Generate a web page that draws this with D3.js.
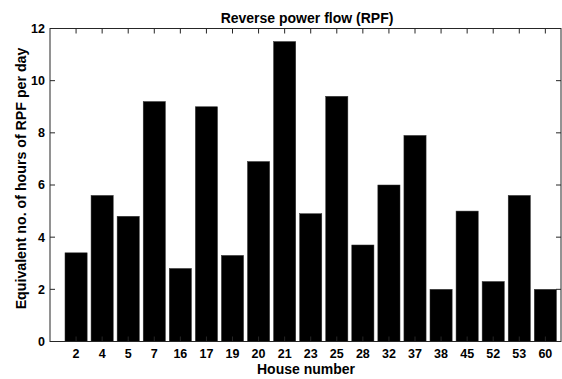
<!DOCTYPE html>
<html>
<head>
<meta charset="utf-8">
<script src="https://cdn.jsdelivr.net/npm/d3@7"></script>
<style>
  html, body { margin: 0; padding: 0; background: #fff; }
  svg { display: block; }
  text { font-family: "Liberation Sans", Arial, Helvetica, sans-serif; font-weight: bold; fill: #000; }
</style>
</head>
<body>
<svg id="chart" width="562" height="379"></svg>
<script>
const houses = ["2","4","5","7","16","17","19","20","21","23","25","28","32","37","38","45","52","53","60"];
const hours  = [3.4, 5.6, 4.8, 9.2, 2.8, 9.0, 3.3, 6.9, 11.5, 4.9, 9.4, 3.7, 6.0, 7.9, 2.0, 5.0, 2.3, 5.6, 2.0];
const yTicks = [0, 2, 4, 6, 8, 10, 12];
const titleText = "Reverse power flow (RPF)";
const xLabelText = "House number";
const yLabelText = "Equivalent no. of hours of RPF per day";

const svg = d3.select("#chart");
const L = 50, R = 561, T = 28.5, B = 341.5;
const axisColor = "#262626";

const x = d3.scaleLinear().domain([0, 19.6]).range([L, R]);
const y = d3.scaleLinear().domain([0, 12]).range([B, T]);
const barW = 0.85;

// bars
svg.append("g").selectAll("rect").data(hours).join("rect")
  .attr("x", (d, i) => x(i + 1 - barW / 2))
  .attr("width", (d, i) => x(i + 1 + barW / 2) - x(i + 1 - barW / 2))
  .attr("y", d => y(d))
  .attr("height", d => y(0) - y(d))
  .attr("fill", "#000")
  .attr("stroke", "#333")
  .attr("stroke-width", 0.5);

const tickLen = 5;
const ax = svg.append("g").attr("stroke", axisColor).attr("fill", "none");
// box
ax.append("rect").attr("x", L).attr("y", T).attr("width", R - L).attr("height", B - T).attr("stroke-width", 1);
// x ticks bottom & top
houses.forEach((h, i) => {
  const xx = x(i + 1);
  ax.append("line").attr("x1", xx).attr("x2", xx).attr("y1", B).attr("y2", B - tickLen);
  ax.append("line").attr("x1", xx).attr("x2", xx).attr("y1", T).attr("y2", T + tickLen);
});
// y ticks left & right
yTicks.forEach(t => {
  const yy = y(t);
  ax.append("line").attr("x1", L).attr("x2", L + tickLen).attr("y1", yy).attr("y2", yy);
  ax.append("line").attr("x1", R).attr("x2", R - tickLen).attr("y1", yy).attr("y2", yy);
});

// tick labels
svg.append("g").selectAll("text").data(houses).join("text")
  .attr("x", (d, i) => x(i + 1))
  .attr("y", 358)
  .attr("text-anchor", "middle")
  .attr("font-size", 12.5)
  .text(d => d);

svg.append("g").selectAll("text").data(yTicks).join("text")
  .attr("x", 45)
  .attr("y", d => y(d) + 4.4)
  .attr("text-anchor", "end")
  .attr("font-size", 12.5)
  .text(d => d);

// title
svg.append("text").attr("x", 307).attr("y", 23).attr("text-anchor", "middle")
  .attr("font-size", 14).text(titleText);
// x label
svg.append("text").attr("x", 306).attr("y", 374).attr("text-anchor", "middle")
  .attr("font-size", 14).text(xLabelText);
// y label
svg.append("text").attr("transform", "translate(26, 178.5) rotate(-90)")
  .attr("text-anchor", "middle").attr("font-size", 14.2).text(yLabelText);
</script>
</body>
</html>
